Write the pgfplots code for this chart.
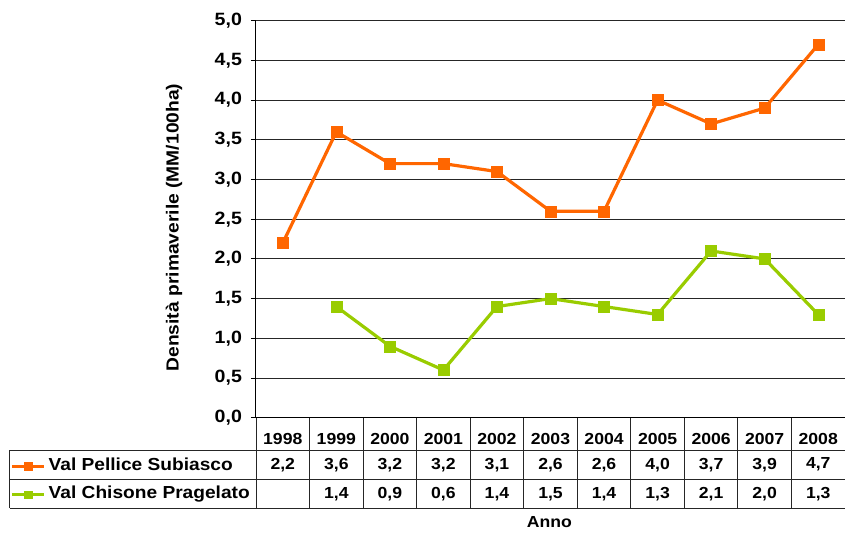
\documentclass[border=0pt]{standalone}
\usepackage{fontspec}
\setmainfont{Liberation Sans}[FakeStretch=1.1]
\usepackage{pgfplots}
\usepackage{pgfplotstable}
\pgfplotsset{compat=1.18}
\definecolor{cOrange}{HTML}{FF6600}
\definecolor{cGreen}{HTML}{99CC00}

\pgfplotstableread{
x pellice
0 2.2
1 3.6
2 3.2
3 3.2
4 3.1
5 2.6
6 2.6
7 4.0
8 3.7
9 3.9
10 4.7
}\pellice
\pgfplotstableread{
x chisone
1 1.4
2 0.9
3 0.6
4 1.4
5 1.5
6 1.4
7 1.3
8 2.1
9 2.0
10 1.3
}\chisone

\begin{document}
\begin{tikzpicture}[font=\bfseries\fontsize{16}{19}\selectfont]
\begin{axis}[
  scale only axis, width=589pt, height=397pt,
  xmin=-0.5, xmax=10.5, ymin=0, ymax=5,
  clip=false,
  axis lines*=left,
  axis line style={black, line width=1pt},
  ytick={0,0.5,...,5},
  ymajorgrids,
  major grid style={black!85, line width=0.9pt},
  tick align=outside,
  major tick length=5pt,
  ytick style={black, line width=0.9pt},
  xtick={0,...,10},
  xticklabels={1998,1999,2000,2001,2002,2003,2004,2005,2006,2007,2008},
  xtick style={draw=none},
  xticklabel style={anchor=center, yshift=-16.3pt},
  /pgf/number format/.cd, fixed, fixed zerofill, precision=1, use comma, assume math mode=true,
  /pgfplots/.cd,
  yticklabel style={xshift=-5.5pt, font=\bfseries\fontsize{17.8}{20}\selectfont},
  ylabel={Densità primaverile (MM/100ha)},
  ylabel style={at={(axis description cs:-0.139,0.479)}, anchor=center, font=\bfseries\fontsize{17.5}{20}\selectfont},
  xlabel={Anno},
  xlabel style={at={(axis description cs:0.498,-0.262)}, anchor=center},
  legend style={at={(axis description cs:-0.4205,-0.099)}, anchor=north west,
    draw=none, fill=none, inner sep=2pt, row sep=14.5pt, column sep=3pt,
    font=\bfseries\fontsize{17.4}{20}\selectfont,
    nodes={inner sep=0pt, text height=11pt, text depth=3pt}},
  legend cell align=left,
  legend image code/.code={
    \draw[mark repeat=2, mark phase=2, #1, mark size=3.8pt]
      plot coordinates {(0pt,0pt) (16pt,0pt) (32pt,0pt)};
  },
]
\addplot[cOrange, line width=3.2pt, mark=square*, mark size=5.5pt,
  mark options={line width=0.4pt, fill=cOrange}] table[x=x, y=pellice]{\pellice};
\addlegendentry{Val Pellice Subiasco}
\addplot[cGreen, line width=3.2pt, mark=square*, mark size=5.5pt,
  mark options={line width=0.4pt, fill=cGreen}] table[x=x, y=chisone]{\chisone};
\addlegendentry{Val Chisone Pragelato}

% data table values
\addplot[forget plot, draw=none, mark=none, point meta=explicit,
  nodes near coords={\pgfmathprintnumber[fixed, fixed zerofill, precision=1, use comma, assume math mode=true]{\pgfplotspointmeta}},
  every node near coord/.append style={anchor=center, black}]
  table[x=x, y expr=-0.592, meta=pellice]{\pellice};
\addplot[forget plot, draw=none, mark=none, point meta=explicit,
  nodes near coords={\pgfmathprintnumber[fixed, fixed zerofill, precision=1, use comma, assume math mode=true]{\pgfplotspointmeta}},
  every node near coord/.append style={anchor=center, black}]
  table[x=x, y expr=-0.958, meta=chisone]{\chisone};

% table grid
\pgfplotsinvokeforeach{-0.5,0.5,...,10.5}{
  \draw[black!85, line width=0.9pt] (axis cs:#1,0) -- (axis cs:#1,-1.141);
}
\draw[black!85, line width=0.9pt] (axis cs:-5.103,-0.407) -- (axis cs:10.5,-0.407);
\draw[black!85, line width=0.9pt] (axis cs:-5.103,-0.776) -- (axis cs:10.5,-0.776);
\draw[black!85, line width=0.9pt] (axis cs:-5.103,-1.141) -- (axis cs:10.5,-1.141);
\draw[black!85, line width=0.9pt] (axis cs:-5.103,-0.407) -- (axis cs:-5.103,-1.141);
\end{axis}
\pgfresetboundingbox
\path (current axis.south west) ++(-256pt,-115.3pt) rectangle ++(845pt,533pt);
\end{tikzpicture}
\end{document}
